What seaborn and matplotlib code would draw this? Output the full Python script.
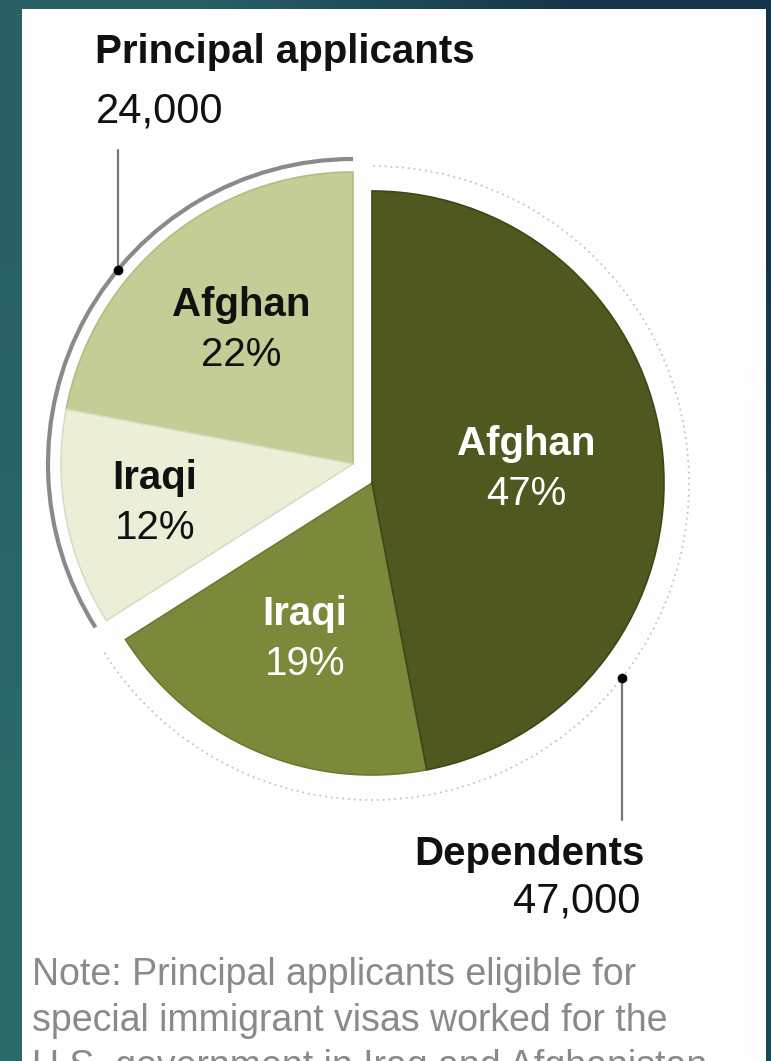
import numpy as np
import matplotlib
matplotlib.use("Agg")
import matplotlib.pyplot as plt
from matplotlib.patches import Arc, Rectangle
import seaborn as sns

# ---------------- data ----------------
categories = ["Afghan", "Iraqi", "Iraqi", "Afghan"]
groups = ["Principal applicants", "Principal applicants", "Dependents", "Dependents"]
shares = [22, 12, 19, 47]
group_names = ["Principal applicants", "Dependents"]
group_counts = [24000, 47000]
note_lines = [
    "Note: Principal applicants eligible for",
    "special immigrant visas worked for the",
    "U.S. government in Iraq and Afghanistan",
]

# ---------------- style ----------------
sns.set_theme(style="white")
plt.rcParams["font.family"] = ["Liberation Sans", "DejaVu Sans"]
colors = ["#c4cd95", "#eceed8", "#7b8a3a", "#51581f"]
edge_cols = ["#b3bd82", "#dadcc4", "#6b7a2e", "#3f4516"]
text_cols = ["#111111", "#111111", "#ffffff", "#ffffff"]
label_frac = [0.60, 0.69, 0.58, 0.53]

W, H = 771, 1061
fig = plt.figure(figsize=(W / 100, H / 100), dpi=100)
ax = fig.add_axes([0, 0, 1, 1])


def Y(y_px):
    return H - y_px


# background gradient frame
grad = np.array([[[0.16, 0.38, 0.40], [0.08, 0.21, 0.29]],
                 [[0.17, 0.41, 0.41], [0.11, 0.29, 0.33]]])
ax.imshow(grad, extent=[0, W, 0, H], aspect="auto", interpolation="bilinear", zorder=0)
ax.add_patch(Rectangle((22, 0), 744, Y(9), facecolor="#fefefe", edgecolor="none", zorder=1))

# ---------------- pie ----------------
R = 292
centers = {"Principal applicants": (353, Y(464)), "Dependents": (372, Y(483))}
wedges, _ = ax.pie(shares, startangle=90, counterclock=True, colors=colors, radius=R,
                   wedgeprops=dict(linewidth=1.2, zorder=3))
for w, g, ec in zip(wedges, groups, edge_cols):
    w.set_center(centers[g])
    w.set_edgecolor(ec)
    w.set_zorder(3)

# group angle spans
total = sum(shares)
n_principal = sum(s for s, g in zip(shares, groups) if g == "Principal applicants")
split_angle = 90 + 360 * n_principal / total

# outer arcs
cp = centers["Principal applicants"]
cd = centers["Dependents"]
r_p, r_d = 305, 317
ax.add_patch(Arc(cp, 2 * r_p, 2 * r_p, theta1=90, theta2=split_angle,
                 color="#8a8a8a", lw=3.0, zorder=4))
ax.add_patch(Arc(cd, 2 * r_d, 2 * r_d, theta1=split_angle, theta2=450,
                 color="#c4c4c4", lw=1.3, linestyle=(0, (1, 2.2)), zorder=4))

# slice labels
ang = 90.0
for w, cat, s, g, frac, tc in zip(wedges, categories, shares, groups, label_frac, text_cols):
    mid = np.deg2rad((w.theta1 + w.theta2) / 2)
    cx, cy = centers[g]
    lx = cx + frac * R * np.cos(mid)
    ly = cy + frac * R * np.sin(mid)
    ax.text(lx, ly + 24, cat, ha="center", va="center", fontsize=29, fontweight="bold",
            color=tc, zorder=5)
    ax.text(lx, ly - 26, f"{s}%", ha="center", va="center", fontsize=29,
            color=tc, zorder=5)

# connectors and group labels
x_p = 118
th_p = np.arccos((x_p - cp[0]) / r_p)
y_p = cp[1] + r_p * np.sin(th_p)
ax.plot([x_p, x_p], [Y(150), y_p], color="#777777", lw=1.6, zorder=5)
ax.plot([x_p], [y_p], "o", color="black", ms=6, zorder=6)

x_d = 622
th_d = -np.arccos((x_d - cd[0]) / r_d)
y_d = cd[1] + r_d * np.sin(th_d)
ax.plot([x_d, x_d], [y_d, Y(820)], color="#777777", lw=1.6, zorder=5)
ax.plot([x_d], [y_d], "o", color="black", ms=6, zorder=6)

ax.text(95, Y(63), group_names[0], ha="left", va="baseline", fontsize=29,
        fontweight="bold", color="#111111", zorder=5)
ax.text(96, Y(123), f"{group_counts[0]:,}", ha="left", va="baseline", fontsize=30,
        color="#111111", zorder=5)
ax.text(645, Y(865), group_names[1], ha="right", va="baseline", fontsize=29,
        fontweight="bold", color="#111111", zorder=5)
ax.text(640, Y(912), f"{group_counts[1]:,}", ha="right", va="baseline", fontsize=30,
        color="#111111", zorder=5)

for i, line in enumerate(note_lines):
    ax.text(32, Y(985 + 46 * i), line, ha="left", va="baseline", fontsize=27,
            color="#8a8a8a", zorder=5)

ax.set_xlim(0, W)
ax.set_ylim(0, H)
ax.set_aspect("auto")
ax.axis("off")
fig.savefig("out.png", dpi=100)
